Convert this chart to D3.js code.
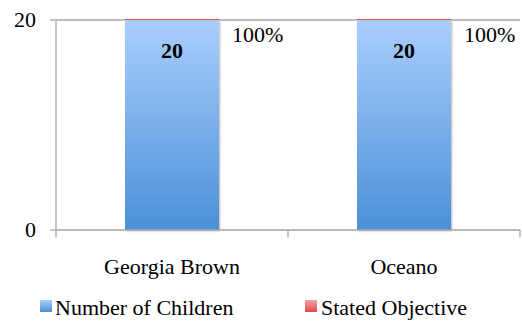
<!DOCTYPE html>
<html><head><meta charset="utf-8">
<script src="https://cdn.jsdelivr.net/npm/d3@7"></script>
<style>body{margin:0;background:#fff}svg{display:block}svg text{font-family:'Liberation Serif',Tinos,'Times New Roman',Times,serif !important}</style>
</head><body><svg id="c" width="522" height="322"></svg>
<script>
const categories = ["Georgia Brown", "Oceano"];
const numberOfChildren = [20, 20];
const statedObjective = [0.1, 0.1];
const objectiveLabels = ["100%", "100%"];
const yTicks = [0, 20];
const seriesNames = ["Number of Children", "Stated Objective"];

const svg = d3.select("#c");
const m = {l: 56, r: 2, t: 20, b: 92};
const W = 522, H = 322;
const x = d3.scaleBand().domain(categories).range([m.l, W - m.r]).paddingInner(0.595).paddingOuter(0.2975);
const y = d3.scaleLinear().domain([0, 20]).range([H - m.b, m.t]);
const txt = (sel) => sel.attr("font-family", "Liberation Serif").attr("fill", "#000")
  .attr("style", "font-family:'Liberation Serif',Tinos,'Times New Roman',Times,serif !important");

const defs = svg.append("defs");
const g1 = defs.append("linearGradient").attr("id", "gb").attr("x1", 0).attr("y1", 0).attr("x2", 0).attr("y2", 1);
g1.append("stop").attr("offset", "0%").attr("stop-color", "#aacefc");
g1.append("stop").attr("offset", "100%").attr("stop-color", "#4b90d8");
const g2 = defs.append("linearGradient").attr("id", "gr").attr("x1", 0).attr("y1", 0).attr("x2", 0).attr("y2", 1);
g2.append("stop").attr("offset", "0%").attr("stop-color", "#f4a3a1");
g2.append("stop").attr("offset", "100%").attr("stop-color", "#e04b47");
const f = defs.append("filter").attr("id", "sh").attr("x", "-10%").attr("y", "-10%").attr("width", "130%").attr("height", "130%");
f.append("feDropShadow").attr("dx", 1).attr("dy", 1).attr("stdDeviation", 1.2).attr("flood-color", "#000").attr("flood-opacity", 0.3);

svg.append("line").attr("x1", m.l).attr("x2", W - m.r).attr("y1", y(20)).attr("y2", y(20)).attr("stroke", "#a6a6a6").attr("stroke-width", 1.3);

categories.forEach((c, i) => {
  const x0 = x(c), bw = x.bandwidth();
  svg.append("rect").attr("x", x0).attr("width", bw).attr("y", y(numberOfChildren[i])).attr("height", y(0) - y(numberOfChildren[i]))
    .attr("fill", "url(#gb)").attr("filter", "url(#sh)");
  svg.append("rect").attr("x", x0).attr("width", bw).attr("y", y(numberOfChildren[i] + statedObjective[i]))
    .attr("height", y(numberOfChildren[i]) - y(numberOfChildren[i] + statedObjective[i])).attr("fill", "#ef5a56");
  svg.append("text").call(txt).attr("x", x0 + bw / 2).attr("y", 58).attr("text-anchor", "middle")
    .attr("font-size", 22).attr("font-weight", "bold").text(numberOfChildren[i]);
  svg.append("text").call(txt).attr("x", x0 + bw + 13).attr("y", 42).attr("font-size", 22).text(objectiveLabels[i]);
});

const ax = svg.append("g");
ax.append("line").attr("x1", m.l).attr("x2", m.l).attr("y1", y(20)).attr("y2", y(0)).attr("stroke", "#a6a6a6").attr("stroke-width", 1.3);
ax.append("line").attr("x1", m.l).attr("x2", W - m.r).attr("y1", y(0)).attr("y2", y(0)).attr("stroke", "#a6a6a6").attr("stroke-width", 1.3);
yTicks.forEach(t => {
  ax.append("line").attr("x1", m.l - 6).attr("x2", m.l).attr("y1", y(t)).attr("y2", y(t)).attr("stroke", "#a6a6a6").attr("stroke-width", 1.3);
  ax.append("text").call(txt).attr("x", 36).attr("y", y(t) + 7).attr("text-anchor", "end").attr("font-size", 22).text(t);
});
const step = (W - m.r - m.l) / categories.length;
d3.range(categories.length + 1).forEach(k => {
  const xx = m.l + k * step;
  ax.append("line").attr("x1", xx).attr("x2", xx).attr("y1", y(0)).attr("y2", y(0) + 7).attr("stroke", "#a6a6a6").attr("stroke-width", 1.3);
});
categories.forEach(c => {
  ax.append("text").call(txt).attr("x", x(c) + x.bandwidth() / 2).attr("y", 274).attr("text-anchor", "middle").attr("font-size", 22).text(c);
});

const lg = svg.append("g");
const items = [{n: seriesNames[0], fill: "url(#gb)", sx: 40, tx: 55}, {n: seriesNames[1], fill: "url(#gr)", sx: 305, tx: 321}];
items.forEach(it => {
  lg.append("rect").attr("x", it.sx).attr("y", 300).attr("width", 12).attr("height", 12).attr("fill", it.fill);
  lg.append("text").call(txt).attr("x", it.tx).attr("y", 315).attr("font-size", 22).text(it.n);
});
</script></body></html>
